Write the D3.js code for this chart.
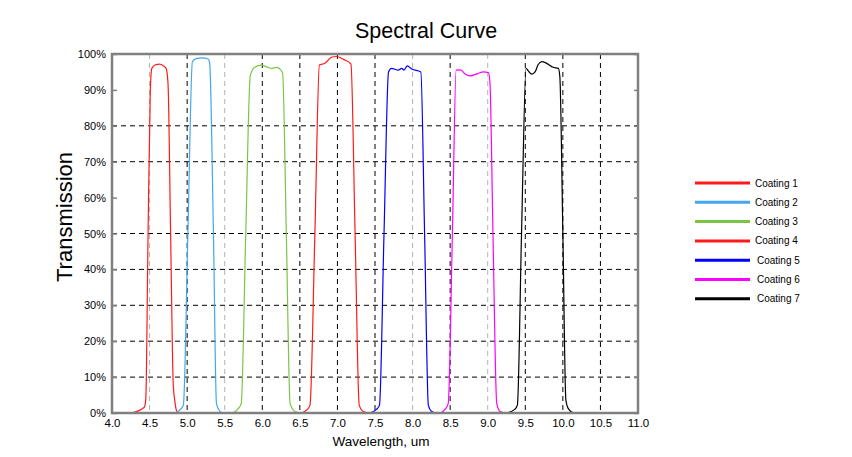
<!DOCTYPE html>
<html>
<head>
<meta charset="utf-8">
<script src="https://cdn.jsdelivr.net/npm/d3@7"></script>
<style>
  body { margin: 0; background: #fff; }
  svg { font-family: "Liberation Sans", Arial, sans-serif; }
  .tick text { fill: #000; }
</style>
</head>
<body>
<svg id="chart" width="852" height="457"></svg>
<script>
// --- data ---
let names = ["Coating 1", "Coating 2", "Coating 3", "Coating 4", "Coating 5", "Coating 6", "Coating 7"];
let colors = ["#ff1a1a", "#44a6ee", "#7cc444", "#ff1a1a", "#0000ff", "#ff00ff", "#000000"];

let coating1 = [[4.26, 0], [4.43, 1.6], [4.45, 4], [4.48, 50], [4.51, 90], [4.53, 96], [4.58, 97], [4.63, 97.2], [4.68, 96.8], [4.72, 96], [4.745, 92], [4.78, 50], [4.815, 8], [4.835, 3.5], [4.86, 0.6], [4.89, 0]];
let coating2 = [[4.85, 0], [4.92, 1.2], [4.95, 2.2], [5.01, 50], [5.07, 97.9], [5.13, 98.8], [5.2, 98.9], [5.28, 98.6], [5.30, 97.4], [5.35, 50], [5.39, 2.7], [5.44, 0.4], [5.48, 0]];
let coating3 = [[5.61, 0], [5.68, 1.2], [5.72, 2.7], [5.78, 50], [5.84, 94], [5.9, 96.3], [5.99, 96.9], [6.06, 96.4], [6.125, 96], [6.19, 96.3], [6.27, 94.8], [6.32, 50], [6.37, 2.7], [6.435, 0.4], [6.50, 0]];
let coating4 = [[6.52, 0], [6.6, 1], [6.635, 2.2], [6.7, 50], [6.76, 96.9], [6.835, 97.4], [6.92, 99.1], [6.99, 99.3], [7.08, 98.5], [7.18, 97.2], [7.235, 50], [7.29, 2.2], [7.345, 0.4], [7.41, 0]];
let coating5 = [[7.43, 0], [7.52, 1], [7.56, 2.2], [7.62, 50], [7.68, 95], [7.72, 96], [7.81, 95.5], [7.855, 96], [7.885, 95.5], [7.93, 96.7], [7.99, 95.8], [8.11, 95], [8.16, 50], [8.21, 2.2], [8.255, 0.4], [8.31, 0]];
let coating6 = [[8.365, 0], [8.44, 1.2], [8.475, 2.7], [8.53, 50], [8.58, 95.5], [8.64, 95.6], [8.70, 94.4], [8.765, 93.9], [8.875, 94.6], [8.94, 95], [9.01, 94.8], [9.03, 92], [9.07, 50], [9.12, 2.7], [9.165, 0.4], [9.23, 0]];
let coating7 = [[9.25, 0], [9.36, 1], [9.395, 2.2], [9.45, 50], [9.51, 96], [9.54, 95.3], [9.585, 94.4], [9.63, 95], [9.67, 97], [9.72, 97.9], [9.785, 97.4], [9.87, 96.3], [9.94, 96], [9.96, 93.7], [10.0, 50], [10.04, 3.6], [10.07, 1.3], [10.14, 0]];
let series = [coating1, coating2, coating3, coating4, coating5, coating6, coating7];

let xTicks = [4.0, 4.5, 5.0, 5.5, 6.0, 6.5, 7.0, 7.5, 8.0, 8.5, 9.0, 9.5, 10.0, 10.5, 11.0];
let yTicks = [0, 10, 20, 30, 40, 50, 60, 70, 80, 90, 100];
let hGrid = [10, 20, 30, 40, 50, 70, 80];
let vGridDark = [5.0, 6.0, 6.5, 7.0, 7.5, 8.5, 9.5, 10.0, 10.5];
let vGridLight = [4.5, 5.5, 8.0, 9.0];

let svg = d3.select("#chart");

let xScale = d3.scaleLinear().domain([4, 11]).range([112, 638]);
let yScale = d3.scaleLinear().domain([0, 100]).range([413, 54]);

let line = d3.line()
    .x(d => xScale(d[0]))
    .y(d => yScale(d[1]))
    .curve(d3.curveMonotoneX);

// grid
svg.append("g")
    .selectAll("line")
    .data(hGrid)
    .enter()
    .append("line")
    .attr("x1", xScale(4)).attr("x2", xScale(11))
    .attr("y1", d => yScale(d)).attr("y2", d => yScale(d))
    .attr("stroke", "#000").attr("stroke-width", 1)
    .attr("stroke-dasharray", "5,4");

svg.append("g")
    .selectAll("line")
    .data(vGridLight)
    .enter()
    .append("line")
    .attr("x1", d => xScale(d)).attr("x2", d => xScale(d))
    .attr("y1", yScale(100)).attr("y2", yScale(0))
    .attr("stroke", "#b4b4b4").attr("stroke-width", 1)
    .attr("stroke-dasharray", "5,4");

svg.append("g")
    .selectAll("line")
    .data(vGridDark)
    .enter()
    .append("line")
    .attr("x1", d => xScale(d)).attr("x2", d => xScale(d))
    .attr("y1", yScale(100)).attr("y2", yScale(0))
    .attr("stroke", "#000").attr("stroke-width", 1)
    .attr("stroke-dasharray", "5,4");

// curves
svg.append("g")
    .selectAll("path")
    .data(series)
    .enter()
    .append("path")
    .attr("d", d => line(d))
    .attr("fill", "none")
    .attr("stroke", (d, i) => colors[i])
    .attr("stroke-width", 1.2);

// frame
svg.append("rect")
    .attr("x", xScale(4)).attr("y", yScale(100))
    .attr("width", xScale(11) - xScale(4))
    .attr("height", yScale(0) - yScale(100))
    .attr("fill", "none")
    .attr("stroke", "#808080")
    .attr("stroke-width", 2.5);

// axes
let yAxis = svg.append("g")
    .attr("transform", "translate(" + xScale(4) + ",0)")
    .call(d3.axisLeft(yScale).tickValues(yTicks).tickFormat(d => d + "%").tickSize(-5).tickPadding(6));
yAxis.select(".domain").remove();
yAxis.selectAll(".tick line").attr("stroke", "#808080").attr("stroke-width", 1.5);
yAxis.selectAll("text").attr("font-size", 11).attr("font-family", "Liberation Sans, Arial, sans-serif");

let yAxisR = svg.append("g")
    .attr("transform", "translate(" + xScale(11) + ",0)")
    .call(d3.axisRight(yScale).tickValues(yTicks).tickFormat("").tickSize(-4));
yAxisR.select(".domain").remove();
yAxisR.selectAll(".tick line").attr("stroke", "#808080").attr("stroke-width", 1.5);

let xAxis = svg.append("g")
    .attr("transform", "translate(0," + yScale(0) + ")")
    .call(d3.axisBottom(xScale).tickValues(xTicks).tickFormat(d3.format(".1f")).tickSize(0).tickPadding(6));
xAxis.select(".domain").remove();
xAxis.selectAll("text").attr("font-size", 11.5).attr("font-family", "Liberation Sans, Arial, sans-serif");

// titles
svg.append("text")
    .attr("x", 426).attr("y", 38)
    .attr("text-anchor", "middle")
    .attr("font-size", 21.5)
    .text("Spectral Curve");

svg.append("text")
    .attr("x", 381).attr("y", 446)
    .attr("text-anchor", "middle")
    .attr("font-size", 13.5)
    .text("Wavelength, um");

svg.append("text")
    .attr("transform", "translate(72,217) rotate(-90)")
    .attr("text-anchor", "middle")
    .attr("font-size", 22)
    .text("Transmission");

// legend
let legend = svg.append("g")
    .selectAll("g")
    .data(names)
    .enter()
    .append("g")
    .attr("transform", (d, i) => "translate(695," + (183 + i * 19.3) + ")");

legend.append("line")
    .attr("x1", 0).attr("x2", 55)
    .attr("stroke", (d, i) => colors[i])
    .attr("stroke-width", 3);

legend.append("text")
    .attr("x", (d, i) => i < 4 ? 60 : 62)
    .attr("y", 3.5)
    .attr("font-size", 10)
    .text(d => d);
</script>
</body>
</html>
